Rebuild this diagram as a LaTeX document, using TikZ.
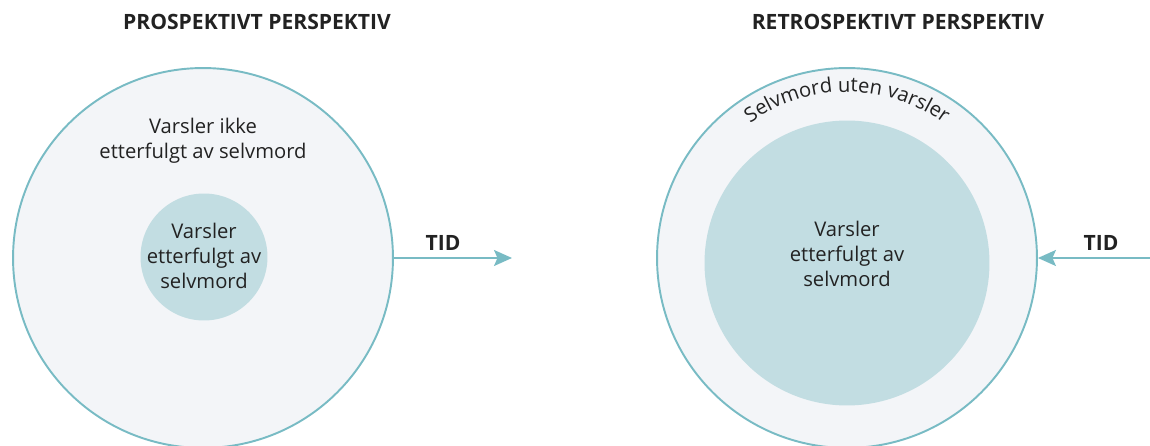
\documentclass[tikz,border=0pt]{standalone}
\usepackage{fontspec}
\setmainfont{Open Sans}
\usetikzlibrary{positioning, arrows.meta, decorations.text}
\definecolor{rim}{HTML}{78BBC4}
\definecolor{pale}{HTML}{F3F5F8}
\definecolor{core}{HTML}{C2DDE2}
\definecolor{ink}{HTML}{222222}

\begin{document}
\begin{tikzpicture}[x=0.02cm, y=0.02cm,
        outer/.style={circle, draw=rim, line width=1.1pt, fill=pale, minimum size=7.6cm, inner sep=0pt},
        inner/.style={circle, fill=core, inner sep=0pt},
        txt/.style={align=center, text=ink, font=\fontsize{11.5}{14.2}\selectfont},
        head/.style={text=ink, font=\bfseries\fontsize{12}{14}\selectfont},
        tid/.style={draw=rim, line width=1.1pt, -{Stealth[length=0.36cm, width=0.32cm, inset=0.07cm]}}]
        \useasboundingbox (0,0) rectangle (1150,446);

        \node [head] (h1) at (257,424) {PROSPEKTIVT PERSPEKTIV};
        \node [head] (h2) at (898,424) {RETROSPEKTIVT PERSPEKTIV};

        % prospektivt
        \node [outer] (p1) at (203,188) {};
        \node [inner, minimum size=2.54cm] (p2) at (204,189) {};
        \node [txt] (p1txt) at (203,305) {Varsler ikke\\etterfulgt av selvmord};
        \node [txt] (p2txt) at (204,190) {Varsler\\etterfulgt av\\selvmord};
        \coordinate (e1) at (512,188);
        \draw [tid] (p1.east) -- (e1);
        \node [head] (t1) at (443,203) {TID};

        % retrospektivt
        \node [outer] (r1) at (847,188) {};
        \node [inner, minimum size=5.7cm] (r2) at (847,183) {};
        \node [txt] (r2txt) at (847,192) {Varsler\\etterfulgt av\\selvmord};
        \path [decorate, decoration={text along path, text align=center,
            text={|\color{ink}\fontsize{11.5}{14}\selectfont|Selvmord uten varsler}}]
            (r1.center) ++(130:166) arc [start angle=130, end angle=50, radius=166];
        \coordinate (s1) at (1150,188);
        \draw [tid] (s1) -- (r1.east);
        \node [head] (t2) at (1101,203) {TID};
    \end{tikzpicture}
\end{document}
